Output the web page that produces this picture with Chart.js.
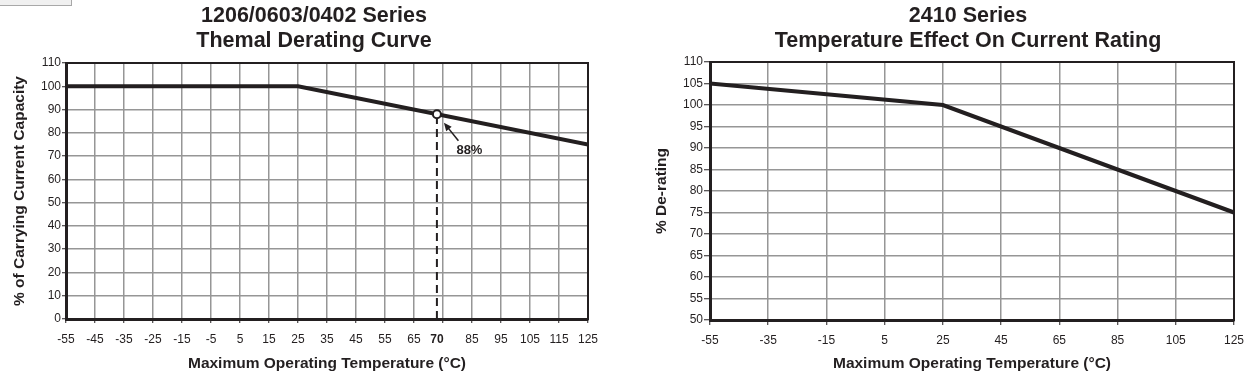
<!DOCTYPE html>
<html>
<head>
<meta charset="utf-8">
<script src="https://cdn.jsdelivr.net/npm/chart.js@4.4.1/dist/chart.umd.min.js"></script>
<style>
  html, body { margin: 0; padding: 0; background: #fff; overflow: hidden; width: 1260px; height: 377px; }
  #tab { position: absolute; left: -1px; top: -20px; width: 71px; height: 24px; background: #f0f0f0; border: 1px solid #a8a8a8; }
  #left { position: absolute; left: 0; top: 0; }
  #right { position: absolute; left: 630px; top: 0; }
</style>
</head>
<body>
<div id="tab"></div>
<canvas id="left" width="628" height="377"></canvas>
<canvas id="right" width="676" height="377"></canvas>
<script>
// 1206/0603/0402 series: thermal derating
const leftTemps = [-55, 25, 125];
const leftCapacity = [100, 100, 75];
const leftXTicks = [-55, -45, -35, -25, -15, -5, 5, 15, 25, 35, 45, 55, 65, 75, 85, 95, 105, 115, 125];
const leftYTicks = [0, 10, 20, 30, 40, 50, 60, 70, 80, 90, 100, 110];
const markerTemp = 72.9;      // where the dashed marker sits on the drawing
const markerValue = 88;
const markerTickLabel = '70';
const markerNote = '88%';
const leftHiddenLabels = [75];

// 2410 series: temperature effect on current rating
const rightTemps = [-55, 25, 125];
const rightDerating = [105, 100, 75];
const rightXTicks = [-55, -35, -15, 5, 25, 45, 65, 85, 105, 125];
const rightYTicks = [50, 55, 60, 65, 70, 75, 80, 85, 90, 95, 100, 105, 110];

const INK = '#231f20';
const GRID = '#969696';

Chart.defaults.font.family = "'Liberation Sans', Arial, Helvetica, sans-serif";
Chart.defaults.color = INK;
Chart.defaults.animation = false;

const toPoints = (xs, ys) => xs.map((x, i) => ({ x, y: ys[i] }));
const fixTicks = list => axis => { axis.ticks = list.map(v => ({ value: v })); };

// invisible axes used only for the top / right frame and spacing
function frameAxes(rightWidth) {
  return {
    xTop: {
      type: 'linear', position: 'top', min: 0, max: 1,
      grid: { display: false }, ticks: { display: false },
      border: { display: true, color: INK, width: 2 },
      afterFit: a => { a.height = 0; }
    },
    yRight: {
      type: 'linear', position: 'right', min: 0, max: 1,
      grid: { display: false }, ticks: { display: false },
      border: { display: true, color: INK, width: 2 },
      afterFit: a => { a.width = rightWidth; }
    }
  };
}

// arrow + "88%" note at the marker point
const markerNotePlugin = {
  id: 'markerNote',
  afterDatasetsDraw(chart) {
    const px = chart.scales.x.getPixelForValue(markerTemp);
    const py = chart.scales.y.getPixelForValue(markerValue);
    const ctx = chart.ctx;
    ctx.save();
    ctx.strokeStyle = INK;
    ctx.fillStyle = INK;
    ctx.lineWidth = 1.5;
    const tipX = px + 7, tipY = py + 8.5;
    const tailX = px + 21.5, tailY = py + 26.5;
    const ang = Math.atan2(tipY - tailY, tipX - tailX);
    ctx.beginPath();
    ctx.moveTo(tailX, tailY);
    ctx.lineTo(tipX - 5 * Math.cos(ang), tipY - 5 * Math.sin(ang));
    ctx.stroke();
    ctx.beginPath();
    ctx.moveTo(tipX, tipY);
    ctx.lineTo(tipX - 8 * Math.cos(ang) + 3.5 * Math.sin(ang), tipY - 8 * Math.sin(ang) - 3.5 * Math.cos(ang));
    ctx.lineTo(tipX - 8 * Math.cos(ang) - 3.5 * Math.sin(ang), tipY - 8 * Math.sin(ang) + 3.5 * Math.cos(ang));
    ctx.closePath();
    ctx.fill();
    ctx.font = "bold 13px 'Liberation Sans', Arial, sans-serif";
    ctx.textAlign = 'center';
    ctx.textBaseline = 'middle';
    ctx.fillText(markerNote, px + 32.5, py + 36);
    ctx.restore();
  }
};

const isMarker = ctx => ctx.tick && ctx.tick.value === markerTemp;

new Chart(document.getElementById('left'), {
  type: 'line',
  data: {
    datasets: [
      {
        type: 'scatter',
        data: [{ x: markerTemp, y: markerValue }],
        pointRadius: 4, pointBorderWidth: 2,
        pointBackgroundColor: '#fff', pointBorderColor: INK,
        xAxisID: 'x', yAxisID: 'y'
      },
      {
        data: toPoints(leftTemps, leftCapacity),
        borderColor: INK, borderWidth: 4, pointRadius: 0, tension: 0,
        xAxisID: 'x', yAxisID: 'y'
      },
      {
        data: [{ x: markerTemp, y: 0 }, { x: markerTemp, y: markerValue }],
        borderColor: INK, borderWidth: 2, borderDash: [8, 5], pointRadius: 0,
        xAxisID: 'x', yAxisID: 'y'
      }
    ]
  },
  options: {
    responsive: false,
    layout: { padding: 0 },
    plugins: {
      legend: { display: false },
      tooltip: { enabled: false },
      title: {
        display: true,
        text: ['1206/0603/0402 Series', 'Themal Derating Curve'],
        color: INK,
        font: { size: 21.5, weight: 'bold', lineHeight: 1.17 },
        padding: { top: 3.4, bottom: 9.3 }
      }
    },
    scales: {
      x: {
        type: 'linear', position: 'bottom', min: -55, max: 125,
        afterBuildTicks: axis => { axis.ticks = leftXTicks.concat([markerTemp]).sort((a, b) => a - b).map(v => ({ value: v })); },
        afterFit: a => { a.height = 58; },
        ticks: {
          autoSkip: false, maxRotation: 0, padding: 9, color: INK,
          font: ctx => ({ size: 12, weight: isMarker(ctx) ? 'bold' : 'normal' }),
          callback: v => v === markerTemp ? markerTickLabel : (leftHiddenLabels.includes(v) ? '' : String(v))
        },
        grid: {
          color: ctx => isMarker(ctx) ? 'rgba(0,0,0,0)' : GRID,
          tickColor: ctx => isMarker(ctx) ? 'rgba(0,0,0,0)' : INK,
          lineWidth: 1.5, tickLength: 4, tickWidth: 1
        },
        border: { display: true, color: INK, width: 3 },
        title: {
          display: true, text: 'Maximum Operating Temperature (°C)', color: INK,
          font: { size: 15.5, weight: 'bold' }, padding: { top: 0, bottom: 4 }
        }
      },
      y: {
        type: 'linear', position: 'left', min: 0, max: 110,
        afterBuildTicks: fixTicks(leftYTicks),
        afterFit: a => { a.width = 66; },
        ticks: { padding: 1, color: INK, font: { size: 12 } },
        grid: { color: GRID, tickColor: INK, lineWidth: 1.5, tickLength: 4, tickWidth: 1 },
        border: { display: true, color: INK, width: 3 },
        title: {
          display: true, text: '% of Carrying Current Capacity', color: INK,
          font: { size: 15.5, weight: 'bold' }, padding: { top: 10, bottom: 0 }
        }
      },
      ...frameAxes(40)
    }
  },
  plugins: [markerNotePlugin]
});

new Chart(document.getElementById('right'), {
  type: 'line',
  data: {
    datasets: [
      {
        data: toPoints(rightTemps, rightDerating),
        borderColor: INK, borderWidth: 4, pointRadius: 0, tension: 0,
        xAxisID: 'x', yAxisID: 'y'
      }
    ]
  },
  options: {
    responsive: false,
    layout: { padding: 0 },
    plugins: {
      legend: { display: false },
      tooltip: { enabled: false },
      title: {
        display: true,
        text: ['2410 Series', 'Temperature Effect On Current Rating'],
        color: INK,
        font: { size: 21.5, weight: 'bold', lineHeight: 1.17 },
        padding: { top: 3.4, bottom: 8.3 }
      }
    },
    scales: {
      x: {
        type: 'linear', position: 'bottom', min: -55, max: 125,
        afterBuildTicks: fixTicks(rightXTicks),
        afterFit: a => { a.height = 57; },
        ticks: { autoSkip: false, maxRotation: 0, padding: 8, color: INK, font: { size: 12 } },
        grid: { color: GRID, tickColor: INK, lineWidth: 1.5, tickLength: 5, tickWidth: 1 },
        border: { display: true, color: INK, width: 3 },
        title: {
          display: true, text: 'Maximum Operating Temperature (°C)', color: INK,
          font: { size: 15.5, weight: 'bold' }, padding: { top: 0, bottom: 4 }
        }
      },
      y: {
        type: 'linear', position: 'left', min: 50, max: 110,
        afterBuildTicks: fixTicks(rightYTicks),
        afterFit: a => { a.width = 80; },
        ticks: { padding: 1, color: INK, font: { size: 12 } },
        grid: { color: GRID, tickColor: INK, lineWidth: 1.5, tickLength: 6, tickWidth: 1 },
        border: { display: true, color: INK, width: 3 },
        title: {
          display: true, text: '% De-rating', color: INK,
          font: { size: 15.5, weight: 'bold' }, padding: { top: 22, bottom: 0 }
        }
      },
      ...frameAxes(72)
    }
  }
});
</script>
</body>
</html>
